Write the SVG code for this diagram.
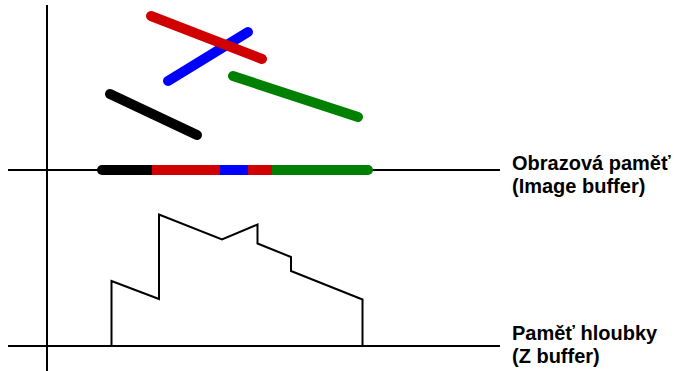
<svg xmlns="http://www.w3.org/2000/svg" width="676" height="371" viewBox="0 0 676 371">
<style>
.ax{stroke:#000;stroke-width:2;fill:none}
.seg{stroke-width:10;stroke-linecap:round;fill:none}
.bar{stroke-width:10;stroke-linecap:butt;fill:none}
.lbl{font-family:"Liberation Sans",Arial,sans-serif;font-weight:bold;font-size:20px;fill:#000}
</style>
<rect width="676" height="371" fill="#fff"/>
<g id="axes">
<line class="ax" x1="47" y1="5" x2="47" y2="371"/>
<line class="ax" x1="8" y1="170" x2="500" y2="170"/>
<line class="ax" x1="8" y1="346" x2="500" y2="346"/>
</g>
<g id="segments">
<line class="seg" x1="248" y1="32" x2="168" y2="81" stroke="#0000ff"/>
<line class="seg" x1="151" y1="16" x2="262" y2="59" stroke="#d00000"/>
<line class="seg" x1="233" y1="76" x2="358" y2="117" stroke="#008000"/>
<line class="seg" x1="110" y1="94" x2="197" y2="135" stroke="#000"/>
</g>
<g id="image-buffer">
<line class="bar" x1="102" y1="170" x2="153" y2="170" stroke="#000"/>
<circle cx="102" cy="170" r="5" fill="#000"/>
<line class="bar" x1="152" y1="170" x2="221" y2="170" stroke="#d00000"/>
<line class="bar" x1="220" y1="170" x2="249" y2="170" stroke="#0000ff"/>
<line class="bar" x1="248" y1="170" x2="273" y2="170" stroke="#d00000"/>
<line class="bar" x1="272" y1="170" x2="368" y2="170" stroke="#008000"/>
<circle cx="368" cy="170" r="5" fill="#008000"/>
</g>
<g id="z-buffer">
<polyline class="ax" points="111.5,346 111.5,281 159,299 159,214.5 222,239.5 257.5,224.5 257.5,243.5 291,257 291,271 362.5,299.5 362.5,346"/>
</g>
<g id="labels">
<text class="lbl" x="512" y="170">Obrazová paměť</text>
<text class="lbl" x="512" y="193">(Image buffer)</text>
<text class="lbl" x="512" y="340">Paměť hloubky</text>
<text class="lbl" x="512" y="363">(Z buffer)</text>
</g>
</svg>
